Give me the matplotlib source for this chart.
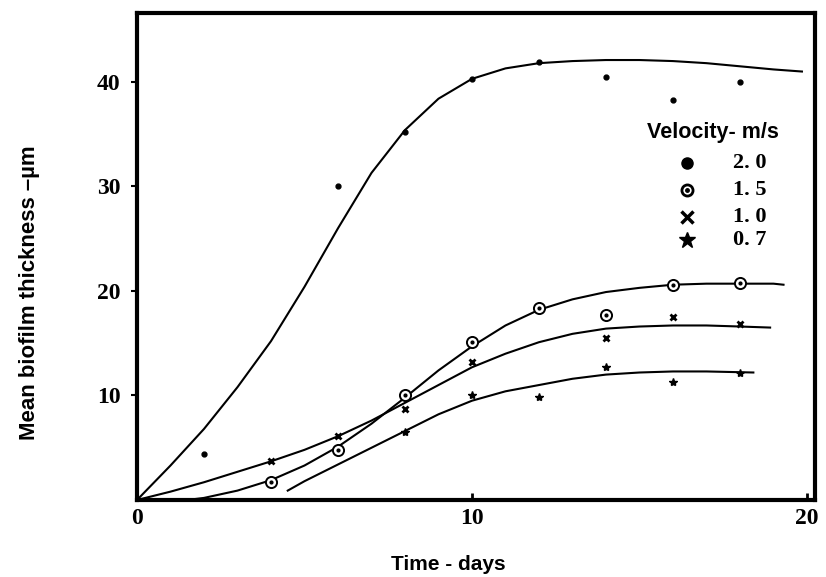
import matplotlib
matplotlib.use('Agg')
import matplotlib.pyplot as plt
import numpy as np

# Datos medidos (puntos) por velocidad
v20_x = [2, 6, 8, 10, 12, 14, 16, 18]
v20_y = [4.4, 30.0, 35.2, 40.3, 41.9, 40.5, 38.3, 40.0]

v15_x = [4, 6, 8, 10, 12, 14, 16, 18]
v15_y = [1.7, 4.8, 10.0, 15.1, 18.4, 17.7, 20.6, 20.8]

v10_x = [4, 6, 8, 10, 14, 16, 18]
v10_y = [3.7, 6.1, 8.7, 13.2, 15.5, 17.5, 16.8]

v07_x = [8, 10, 12, 14, 16, 18]
v07_y = [6.5, 10.0, 9.9, 12.7, 11.3, 12.2]

# Curvas ajustadas (leidas a mano del grafico)
c20_x = [0, 1, 2, 3, 4, 5, 6, 7, 8, 9, 10, 11, 12, 13, 14, 15, 16, 17, 18, 19, 19.85]
c20_y = [0, 3.3, 6.8, 10.8, 15.2, 20.4, 26.0, 31.3, 35.4, 38.4, 40.3, 41.3, 41.8, 42.0, 42.1, 42.1, 42.0, 41.8, 41.5, 41.2, 41.0]

c15_x = [1.5, 2, 3, 4, 5, 6, 7, 8, 9, 10, 11, 12, 13, 14, 15, 16, 17, 18, 19, 19.3]
c15_y = [0, 0.2, 0.9, 1.9, 3.3, 5.1, 7.3, 9.8, 12.4, 14.7, 16.7, 18.2, 19.2, 19.9, 20.3, 20.6, 20.7, 20.7, 20.7, 20.6]

c10_x = [0, 1, 2, 3, 4, 5, 6, 7, 8, 9, 10, 11, 12, 13, 14, 15, 16, 17, 18, 18.9]
c10_y = [0, 0.8, 1.7, 2.7, 3.7, 4.8, 6.1, 7.6, 9.3, 11.0, 12.7, 14.0, 15.1, 15.9, 16.4, 16.6, 16.7, 16.7, 16.6, 16.5]

c07_x = [4.5, 5, 6, 7, 8, 9, 10, 11, 12, 13, 14, 15, 16, 17, 18.4]
c07_y = [0.9, 1.8, 3.4, 5.0, 6.6, 8.2, 9.5, 10.4, 11.0, 11.6, 12.0, 12.2, 12.3, 12.3, 12.2]

x_ticks = [0, 10, 20]
y_ticks = [10, 20, 30, 40]
leyenda = ['2. 0', '1. 5', '1. 0', '0. 7']

serif_b = {'family': 'Liberation Serif', 'weight': 'bold'}
sans_b = {'family': 'Liberation Sans', 'weight': 'bold'}

fig = plt.figure(figsize=(8.26, 5.77), dpi=100)
ax = fig.add_axes([137 / 826, 77 / 577, 678 / 826, 487 / 577])

lw = 1.5
ax.plot(c20_x, c20_y, color='black', lw=lw)
ax.plot(c15_x, c15_y, color='black', lw=lw)
ax.plot(c10_x, c10_y, color='black', lw=lw)
ax.plot(c07_x, c07_y, color='black', lw=lw)

ax.plot(v20_x, v20_y, 'o', color='black', ms=3.5, ls='none')
ax.plot(v15_x, v15_y, 'o', mfc='white', mec='black', mew=1.4, ms=8, ls='none')
ax.plot(v15_x, v15_y, 'o', color='black', ms=2, ls='none')
ax.plot(v10_x, v10_y, 'x', color='black', mew=2, ms=4, ls='none')
ax.plot(v07_x, v07_y, '*', color='black', ms=6, ls='none')

ax.set_xlim(0, 20.24)
ax.set_ylim(0, 46.6)
ax.set_xticks(x_ticks)
ax.set_yticks(y_ticks)
ax.set_xticklabels([str(t) for t in x_ticks], fontdict=serif_b, fontsize=17)
ax.set_yticklabels([str(t) for t in y_ticks], fontdict=serif_b, fontsize=17)
ax.tick_params(axis='x', direction='in', length=5, width=2, pad=6)
ax.tick_params(axis='y', direction='out', length=4, width=1.5, pad=8)
for s in ax.spines.values():
    s.set_linewidth(3)

fig.text(448 / 826, 1 - 565 / 577, 'Time - days', ha='center', va='center',
         fontdict=sans_b, fontsize=15)
fig.text(30 / 826, 1 - 293 / 577, 'Mean biofilm thickness –µm', rotation=90,
         ha='center', va='center', fontdict=sans_b, fontsize=16)

# Leyenda dibujada a mano
ax.text(0.850, 0.754, 'Velocity- m/s', transform=ax.transAxes, ha='center', va='center',
        fontdict=sans_b, fontsize=15.5)
filas = [0.692, 0.637, 0.581, 0.534]
ax.plot(0.811, filas[0], 'o', color='black', ms=8, transform=ax.transAxes, clip_on=False)
ax.plot(0.811, filas[1], 'o', mfc='white', mec='black', mew=2, ms=8, transform=ax.transAxes)
ax.plot(0.811, filas[1], 'o', color='black', ms=2.5, transform=ax.transAxes)
ax.plot(0.811, filas[2], 'x', color='black', mew=2.5, ms=8, transform=ax.transAxes)
ax.plot(0.811, filas[3], '*', color='black', ms=12, transform=ax.transAxes)
for f, t in zip(filas, leyenda):
    ax.text(0.879, f, t, transform=ax.transAxes, ha='left', va='center',
            fontdict=serif_b, fontsize=16)

fig.savefig('out.png', dpi=100)
